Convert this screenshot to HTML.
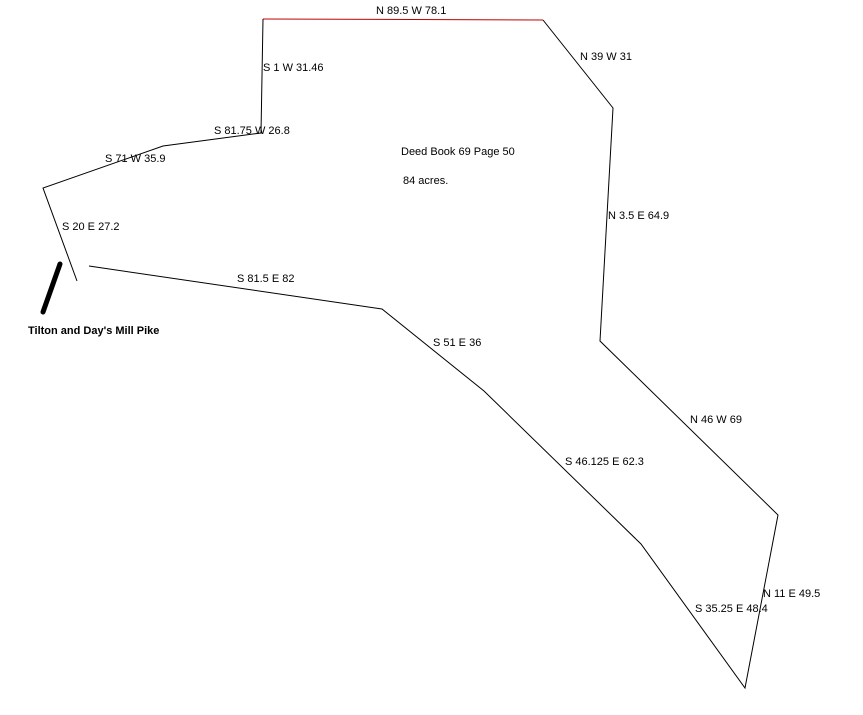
<!DOCTYPE html>
<html><head><style>
html,body{margin:0;padding:0;background:#fff;}
svg text{font-family:"Liberation Sans",sans-serif;font-size:11px;fill:#000;}
</style></head><body>
<svg width="863" height="710" viewBox="0 0 863 710" xmlns="http://www.w3.org/2000/svg">
<g fill="none" stroke="#000" stroke-width="1">
<line x1="263" y1="19" x2="543" y2="20" stroke="#c00000"/>
<polyline points="543,20 613,108 600,341 778,515 745,688 641,544 484,391 382,309 89,266"/>
<polyline points="77,281 43,188 163,146 261,133 263,19"/>
<line x1="60" y1="264" x2="43" y2="312" stroke-width="5" stroke-linecap="round"/>
</g>
<text x="376" y="14">N 89.5 W 78.1</text>
<text x="580" y="60">N 39 W 31</text>
<text x="263" y="71">S 1 W 31.46</text>
<text x="214" y="134">S 81.75 W 26.8</text>
<text x="105" y="162">S 71 W 35.9</text>
<text x="401" y="155">Deed Book 69 Page 50</text>
<text x="403" y="184">84 acres.</text>
<text x="608" y="219">N 3.5 E 64.9</text>
<text x="62" y="230">S 20 E 27.2</text>
<text x="237" y="282">S 81.5 E 82</text>
<text x="28" y="334" style="font-weight:bold">Tilton and Day's Mill Pike</text>
<text x="433" y="346">S 51 E 36</text>
<text x="690" y="423">N 46 W 69</text>
<text x="565" y="465">S 46.125 E 62.3</text>
<text x="763" y="597">N 11 E 49.5</text>
<text x="695" y="612">S 35.25 E 48.4</text>
</svg>
</body></html>
